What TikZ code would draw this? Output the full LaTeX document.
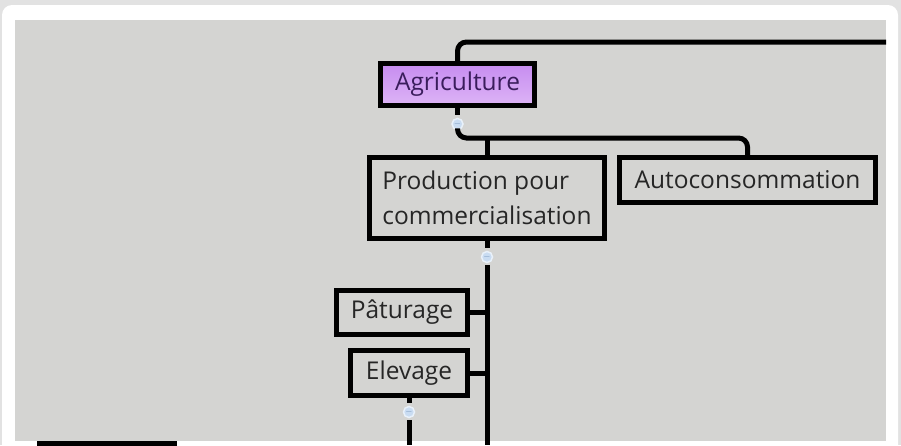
\documentclass[tikz,border=0pt]{standalone}
\usepackage{fontspec}
\setmainfont{Open Sans}
\usetikzlibrary{positioning}
\definecolor{canvas}{HTML}{D4D4D2}
\definecolor{outer}{HTML}{E2E2E2}
\definecolor{txtgray}{HTML}{262626}
\definecolor{agritxt}{HTML}{3A1D5C}
\definecolor{agritop}{HTML}{C68CF0}
\definecolor{agribot}{HTML}{DDB4F6}
\definecolor{togblue}{HTML}{C9DCF2}
\definecolor{togdash}{HTML}{6F8FB5}

\begin{document}
\begin{tikzpicture}[x=1pt, y=-1pt,
    box/.style = {draw=black, line width=5pt, fill=canvas, inner sep=0pt,
                  text=txtgray, font=\fontsize{24.5}{35}\selectfont},
    conn/.style = {line width=5pt, rounded corners=9pt},
    toggle/.style = {circle, fill=togblue, draw=togblue!40!white, line width=1.5pt,
                     inner sep=0pt, minimum size=11pt,
                     text=togdash, font=\fontsize{9}{9}\selectfont}]
    \useasboundingbox (0,0) rectangle (901,445);
    \clip (0,0) rectangle (901,445);
    % screen and canvas
    \fill[outer] (0,0) rectangle (901,445);
    \fill[white, rounded corners=10pt] (2,5) rectangle (898,470);
    \fill[canvas] (15,20) rectangle (886,441);

    \coordinate (top-end) at (886,42);
    \coordinate (prod-end) at (487,445);
    \coordinate (elev-end) at (409,445);

    % boxes
    \node[box, top color=agritop, bottom color=agribot, text=agritxt,
          minimum width=154pt, minimum height=42pt] (agri) at (457.5,84.5) {Agriculture};
    \node[box, align=left, minimum width=235pt, minimum height=81pt] (prod) at (487,198)
        {Production pour\\commercialisation};
    \node[box, minimum width=256pt, minimum height=45pt] (auto) at (747.5,180) {Autoconsommation};
    \node[box, minimum width=131pt, minimum height=44pt] (pat) at (402,312.5) {Pâturage};
    \node[box, minimum width=117pt, minimum height=45pt] (elev) at (409,373) {Elevage};
    \node[box, minimum width=135pt, minimum height=50pt] (next) at (107,468) {};

    % collapse buttons
    \node[toggle] (agri-tog) at (457.5,124) {$-$};
    \node[toggle] (prod-tog) at (487,257) {$-$};
    \node[toggle] (elev-tog) at (409,412) {$-$};

    % connectors
    \draw[conn] (agri.north) |- (top-end);
    \draw[conn, shorten >=3pt] (agri.south) -- (agri-tog.north);
    \draw[conn, shorten <=2pt] (agri-tog.south) -- (agri-tog.south |- 0,138) -| (auto.north);
    \draw[conn] (prod.north) -- (prod.north |- 0,138);
    \draw[conn, shorten >=3pt] (prod.south) -- (prod-tog.north);
    \draw[conn, shorten <=2pt] (prod-tog.south) -- (prod-end);
    \draw[conn] (pat.east) -- (pat.east -| prod-end);
    \draw[conn] (elev.east) -- (elev.east -| prod-end);
    \draw[conn, shorten >=3pt] (elev.south) -- (elev-tog.north);
    \draw[conn, shorten <=2pt] (elev-tog.south) -- (elev-end);
\end{tikzpicture}
\end{document}
